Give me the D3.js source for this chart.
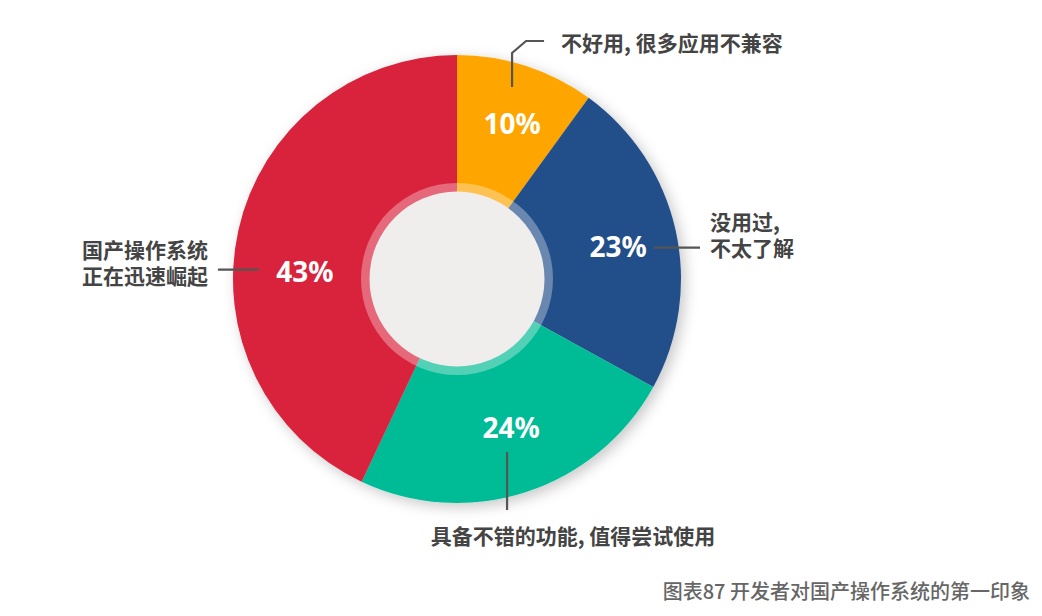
<!DOCTYPE html>
<html>
<head>
<meta charset="utf-8">
<script src="https://cdn.jsdelivr.net/npm/d3@7"></script>
<style>
  body { margin: 0; background: #fff; }
  svg { display: block; font-family: "Noto Sans CJK SC", "Noto Sans", sans-serif; }
</style>
</head>
<body>
<svg id="chart"></svg>
<script>
// data
var categories = ['不好用, 很多应用不兼容', '没用过,|不太了解', '具备不错的功能, 值得尝试使用', '国产操作系统|正在迅速崛起'];
var values = [10, 23, 24, 43];
var colors = ['#fea500', '#234f8a', '#00bc96', '#d9213a'];
var title = '图表87 开发者对国产操作系统的第一印象';

var width = 1042, height = 616;
var cx = 457, cy = 279, radius = 224;

var svg = d3.select('#chart')
  .attr('width', width)
  .attr('height', height);

var defs = svg.append('defs');
var shadow = defs.append('filter').attr('id', 'shadow')
  .attr('x', '-20%').attr('y', '-20%').attr('width', '140%').attr('height', '140%');
shadow.append('feDropShadow')
  .attr('dx', 4).attr('dy', 4).attr('stdDeviation', 7)
  .attr('flood-color', '#000').attr('flood-opacity', 0.22);

var g = svg.append('g').attr('transform', 'translate(' + cx + ',' + cy + ')');

var pie = d3.pie().sort(null).value(function(d) { return d; });
var arcs = pie(values);
var arc = d3.arc().innerRadius(0).outerRadius(radius);
var labelArc = d3.arc().innerRadius(162).outerRadius(162);

g.append('g').attr('filter', 'url(#shadow)')
  .selectAll('path')
  .data(arcs)
  .enter()
  .append('path')
  .attr('d', arc)
  .attr('fill', function(d, i) { return colors[i]; });

// centre: translucent ring + light disc
g.append('circle').attr('r', 96).attr('fill', '#fff').attr('fill-opacity', 0.32);
g.append('circle').attr('r', 87.5).attr('fill', '#efeeed');

// label nudges (layout only)
var nudge = [[5, -2], [3, 2], [4, -6], [6, 27]];
var pos = arcs.map(function(d, i) {
  var c = labelArc.centroid(d);
  return [c[0] + nudge[i][0], c[1] + nudge[i][1]];
});

g.selectAll('text.pct')
  .data(arcs)
  .enter()
  .append('text')
  .attr('class', 'pct')
  .attr('x', function(d, i) { return pos[i][0]; })
  .attr('y', function(d, i) { return pos[i][1]; })
  .attr('text-anchor', 'middle')
  .attr('dominant-baseline', 'central')
  .attr('font-family', '"Noto Sans", "Open Sans", sans-serif')
  .attr('font-weight', 'bold')
  .attr('font-size', 28)
  .attr('fill', '#fff')
  .text(function(d) { return d.value + '%'; });

// leader lines
var line = d3.line();
var leaders = [
  [[pos[0][0], pos[0][1] - 36], [pos[0][0], -radius - 2], [pos[0][0] + 14, -radius - 14], [pos[0][0] + 32, -radius - 14]],
  [[pos[1][0] + 36, pos[1][1] + 2], [radius + 19, pos[1][1] + 2]],
  [[pos[2][0] - 4, pos[2][1] + 25], [pos[2][0] - 4, radius + 7]],
  [[pos[3][0] - 46, pos[3][1] - 1], [pos[3][0] - 87, pos[3][1] - 1]]
];
g.selectAll('path.leader')
  .data(leaders)
  .enter()
  .append('path')
  .attr('class', 'leader')
  .attr('d', function(d) { return line(d); })
  .attr('fill', 'none')
  .attr('stroke', '#555')
  .attr('stroke-width', 2.2);

// category labels
var catPos = [
  { x: leaders[0][3][0] + 17, y: leaders[0][3][1] + 1, anchor: 'start' },
  { x: leaders[1][1][0] + 10, y: leaders[1][1][1] - 27, anchor: 'start' },
  { x: leaders[2][1][0] + 66, y: leaders[2][1][1] + 25, anchor: 'middle' },
  { x: leaders[3][1][0] - 10, y: leaders[3][1][1] - 21, anchor: 'end' }
];
categories.forEach(function(c, i) {
  var t = g.append('text')
    .attr('x', catPos[i].x)
    .attr('y', catPos[i].y)
    .attr('text-anchor', catPos[i].anchor)
    .attr('dominant-baseline', 'central')
    .attr('font-weight', 'bold')
    .attr('font-size', 21)
    .attr('fill', '#444');
  var lines = c.split('|');
  lines.forEach(function(l, j) {
    t.append('tspan')
      .attr('x', catPos[i].x)
      .attr('dy', j === 0 ? 0 : 26)
      .text(l);
  });
});

svg.append('text')
  .attr('x', 1030)
  .attr('y', 590)
  .attr('text-anchor', 'end')
  .attr('dominant-baseline', 'central')
  .attr('font-weight', 500)
  .attr('font-size', 20)
  .attr('fill', '#666')
  .text(title);
</script>
</body>
</html>
